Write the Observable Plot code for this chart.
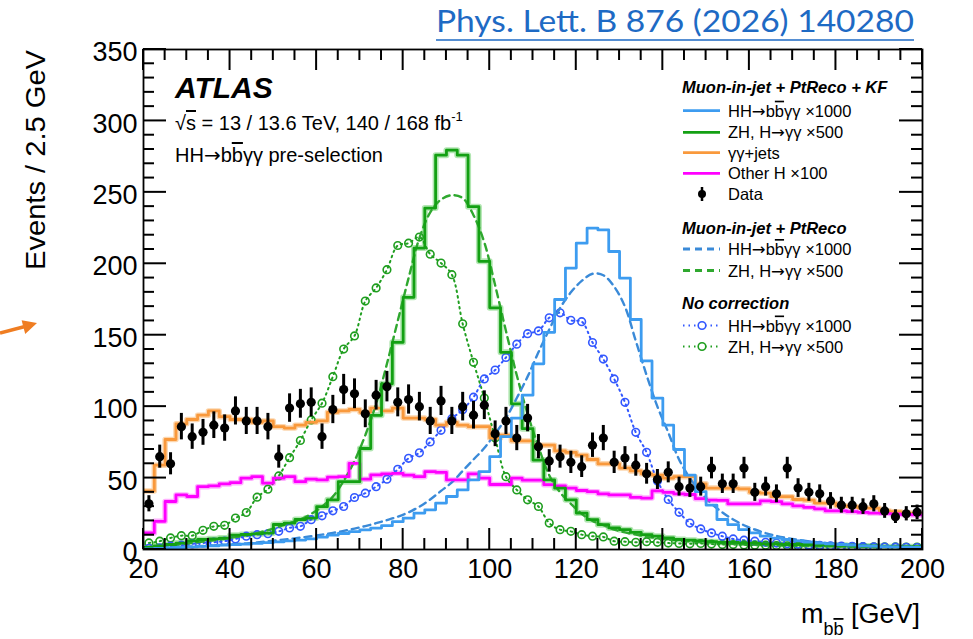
<!DOCTYPE html>
<html><head><meta charset="utf-8">
<script src="https://cdn.jsdelivr.net/npm/d3@7"></script>
<script src="https://cdn.jsdelivr.net/npm/@observablehq/plot@0.6"></script>
<style>
html,body{margin:0;padding:0;background:#fff;}
#wrap{position:relative;width:973px;height:639px;overflow:hidden;font-family:"Liberation Sans",Arial,sans-serif;color:#000;}
#wrap > svg{position:absolute;left:0;top:0;}
</style></head><body><div id="wrap"></div>
<script>
// ---- data (m_bb, 2.5 GeV bins from 20 to 200 GeV) ----
const binEdges = [20,22.5,25,27.5,30,32.5,35,37.5,40,42.5,45,47.5,50,52.5,55,57.5,60,62.5,65,67.5,70,72.5,75,77.5,80,82.5,85,87.5,90,92.5,95,97.5,100,102.5,105,107.5,110,112.5,115,117.5,120,122.5,125,127.5,130,132.5,135,137.5,140,142.5,145,147.5,150,152.5,155,157.5,160,162.5,165,167.5,170,172.5,175,177.5,180,182.5,185,187.5,190,192.5,195,197.5,200];
const xTicksMajor = [20,40,60,80,100,120,140,160,180,200];
const yTicksMajor = [0,50,100,150,200,250,300,350];

const dataCounts = [32,65,60,86,79,82,87,85,97,90,90,86,65,99,102,103,79,98,112,109,95,108,114,103,105,100,90,104,90,100,94,101,81,90,78,92,72,62,65,61,58,73,78,61,64,59,53,49,54,44,43,44,57,46,46,57,40,44,39,57,43,40,39,34,31,31,30,32,27,23,25,26];
const gamgamJets = [41,59,77,88,91,94,97,93,91,91,89,90,86,85,87,89,90,96,97,98,96,99,97,99,92,92,91,87,89,87,86,86,78,80,76,76,73,73,69,68,66,63,60,60,57,55,53,52,50,51,51,46,43,43,43,42.5,40,39.5,37,37,35,34.5,32.5,32.5,30.5,30,29,29,27,26.5,25.5,25];
const otherH = [11.6,19.7,33.6,38.2,37.1,44,44.5,45.9,46.8,49.9,51,46.4,49.9,51,47.5,49.2,48.7,50.6,51,60.3,49.2,52.2,52.9,53.3,52,51,54.5,54,48.7,48.7,53,50,45.5,45.5,49.9,48.5,48.5,45.4,44.5,43,41.3,40.5,39,38.2,38.2,36.5,36,41,40,39,38.5,35.6,34.5,34.4,32,32,32,34,33.5,32,30.5,29.5,28.5,27,27,26.5,26,25.5,25.3,25,24.5,24.2];
const zhKF = [1.5,2.5,3.5,4.5,6,7,7.5,8,10,10.5,11,11.5,17.5,18.5,21,22,30,34.8,47.5,47.5,70.7,93.9,116,145,176.5,211,239,276,279.5,276,240,201.7,169.2,138,102,84.6,62.6,48.7,42.9,34.8,25.5,20.9,17.4,15.1,13.9,12,10.4,9.3,8.1,7,6.5,6,5.5,5,5,4.5,4.5,4,4,3.5,3.5,3.5,3,3,3,2.5,2.5,2.5,2,2,2,2];
const hhKF = [0.5,0.8,1.1,1.4,1.8,2.2,2.6,3,3.4,3.8,4.3,4.8,5.4,6,6.6,7.4,8.6,10,11.2,12.5,13.8,15,16.7,19.5,22,25.5,27.8,32.5,37.1,41.7,48.7,54.5,65,79,92,108,130,152,175,197,214.4,225,223.7,208.6,190,161,132,106,87,70,52,40.5,31,21,17.4,13.9,11.6,9.3,8,7,6,5.2,4.5,4,3.5,3,2.6,2.3,2,1.8,1.6,1.5];
const hhPtReco = [1,1.2,1.5,1.8,2.1,2.5,2.9,3.3,3.8,4.3,5,5.8,6.6,7.4,8.3,9.3,10.4,11.6,13,14.6,16.4,18.4,20.6,23,26,30,35,41,47,55,63,71,81,92,106,121,138,154,169,180,188,193,192,184,170,146,122,100,82,63,50,40,32,26,21,17,14,11.5,9.5,8,6.8,5.8,5,4.3,3.7,3.2,2.8,2.5,2.2,2,1.8,1.6];
const zhPtReco = [1.7,2.3,3,3.8,4.6,5.5,6.5,7.5,8.7,10,11.5,13.5,16,18.5,21,25,30,37,48,62,80,102,130,160,190,218,236,245,248,246,234,215,185,153,122,95,72,52,40,32,25,20,17,14,12,10.5,9,8,7,6.3,5.7,5.2,4.8,4.4,4,3.7,3.4,3.2,3,2.8,2.6,2.4,2.3,2.2,2.1,2,1.9,1.8,1.7,1.6,1.5,1.5];
const zhNoCorr = [4.6,5.8,8.1,9.7,9.7,13.4,16.2,16.9,22,25.9,36.6,42.2,51.5,64.3,76.3,90.7,102.4,121,140.3,149.5,173.9,183.1,195.9,212.8,214.4,218.7,206.7,200.5,192.4,158,131,106,78,51,41.7,34.8,30.1,18.5,13.9,12.7,10.4,9.3,8.8,5.8,5.5,5,5.5,5,4.5,4.2,4,4.2,3.8,3.5,3.5,3.2,3,3,2.8,2.6,2.5,2.5,2.3,2.2,2,2,2,1.9,1.8,1.8,1.7,1.7];
const hhNoCorr = [0.8,1.2,2.3,3,3.9,4.6,5.1,5.8,7.4,9.3,10.4,11.1,12.7,15.1,16.2,20.9,23.6,27.1,30.1,36.4,39.4,44,49.2,56.1,63.8,67.7,75.3,83.4,91.6,97.8,106.6,119.4,125.6,134.4,143.7,151.1,153,162.2,165.7,160.4,159.5,144.9,133.3,119.4,103,82,68,48,35,26,18.5,14.4,11.6,9.3,7.4,6.5,5.8,5,4.5,4,3.6,3.2,2.9,2.6,2.4,2.2,2,1.8,1.7,1.6,1.5,1.4];

// colours
const C = {hh:"#3d9cf0", zh:"#13a013", orange:"#f9993c", magenta:"#ff00ff", hhDash:"#3a8ad8", zhDash:"#2fa82f", hhCirc:"#3358ff", zhCirc:"#1f9e1f"};

// table builders
const stepRows = v => binEdges.map((x,i) => ({x, y: v[Math.min(i, v.length-1)]}));
const centerRows = v => v.map((y,i) => ({x: (binEdges[i]+binEdges[i+1])/2, y}));
const xMinor = binEdges.filter((e,i) => i%2===0 && !xTicksMajor.includes(e));
const yMinor = d3.range(0, 351, 10).filter(v => !yTicksMajor.includes(v));

const W = 973, H = 639, mL = 143, mR = 51, mT = 49, mB = 90;
const stepLine = (v, stroke, w) => Plot.line(stepRows(v), {x:"x", y:"y", curve:"step-after", stroke, strokeWidth:w, clip:true});
const smoothLine = (v, stroke, w, dash) => Plot.line(centerRows(v), {x:"x", y:"y", curve:"catmull-rom", stroke, strokeWidth:w, strokeDasharray:dash, clip:true});
const dataRows = centerRows(dataCounts);

const plot = Plot.plot({
  width: W, height: H,
  marginLeft: mL, marginRight: mR, marginTop: mT, marginBottom: mB,
  x: {domain: [20, 200]},
  y: {domain: [0, 350]},
  style: {fontFamily: "'Liberation Sans', Arial, sans-serif", background: "transparent", color: "#000", overflow: "visible"},
  marks: [
    // uncertainty halos
    stepLine(gamgamJets, "#fcd6ae", 5.5),
    stepLine(otherH, "#ffb0ff", 5.5),
    stepLine(zhKF, "#b2e6b2", 6),
    // no correction (dotted + circles)
    smoothLine(zhNoCorr, C.zhCirc, 2, "1.5,4"),
    smoothLine(hhNoCorr, C.hhCirc, 2, "1.5,4"),
    Plot.dot(centerRows(zhNoCorr), {x:"x", y:"y", r:3.8, stroke:C.zhCirc, strokeWidth:1.6, fill:"none", clip:true}),
    Plot.dot(centerRows(hhNoCorr), {x:"x", y:"y", r:3.8, stroke:C.hhCirc, strokeWidth:1.6, fill:"none", clip:true}),
    // PtReco dashed
    smoothLine(zhPtReco, C.zhDash, 2.4, "7,5"),
    smoothLine(hhPtReco, C.hhDash, 2.4, "7,5"),
    // KF solid histograms
    stepLine(gamgamJets, C.orange, 2.8),
    stepLine(otherH, C.magenta, 2.8),
    stepLine(zhKF, C.zh, 2.8),
    stepLine(hhKF, C.hh, 2.8),
    // data
    Plot.ruleX(dataRows, {x:"x", y1: d => d.y - Math.sqrt(d.y), y2: d => d.y + Math.sqrt(d.y), stroke:"#000", strokeWidth:3}),
    Plot.dot(dataRows, {x:"x", y:"y", r:4.6, fill:"#000"}),
    Plot.frame({stroke:"#000", strokeWidth:1.8}),
    Plot.axisX(xTicksMajor, {anchor:"bottom", tickSize:0, tickPadding:9, fontSize:27, label:null, tickFormat: d => String(d)}),
    Plot.axisY(yTicksMajor, {anchor:"left", tickSize:0, tickPadding:6, fontSize:27, dy:3, label:null, tickFormat: d => String(d)})
  ]
});
document.getElementById("wrap").appendChild(plot);

// ---- overlay: ticks (via Plot's scales), titles, annotations, legend ----
const ov = d3.select("#wrap").append("svg").attr("width", W).attr("height", H)
  .style("font-family", "'Liberation Sans', Arial, sans-serif");
const sx = plot.scale("x"), sy = plot.scale("y");
const fx = v => sx.apply(v), fy = v => sy.apply(v);
const pLeft = fx(20), pRight = fx(200), pBottom = fy(0), pTop = fy(350);
function tickLine(x1, y1, x2, y2) {
  ov.append("line").attr("x1", x1).attr("y1", y1).attr("x2", x2).attr("y2", y2)
    .attr("stroke", "#000").attr("stroke-width", 2);
}
xTicksMajor.forEach(v => { tickLine(fx(v), pBottom, fx(v), pBottom - 21); tickLine(fx(v), pTop, fx(v), pTop + 21); });
xMinor.forEach(v => { tickLine(fx(v), pBottom, fx(v), pBottom - 11); tickLine(fx(v), pTop, fx(v), pTop + 11); });
yTicksMajor.forEach(v => { tickLine(pLeft, fy(v), pLeft + 23, fy(v)); tickLine(pRight, fy(v), pRight - 23, fy(v)); });
yMinor.forEach(v => { tickLine(pLeft, fy(v), pLeft + 11, fy(v)); tickLine(pRight, fy(v), pRight - 11, fy(v)); });

const ARROW_FONT = "'DejaVu Sans', sans-serif";

// journal reference
ov.append("text").attr("x", 436).attr("y", 32).attr("fill", "#1e6ac4")
  .attr("font-family", "Lato, 'Open Sans', sans-serif").attr("font-size", 31)
  .attr("textLength", 478).attr("lengthAdjust", "spacingAndGlyphs")
  .text("Phys. Lett. B 876 (2026) 140280");
ov.append("line").attr("x1", 436).attr("x2", 914).attr("y1", 40).attr("y2", 40).attr("stroke", "#1e6ac4").attr("stroke-width", 1.6);

// orange arrow
ov.append("line").attr("x1", 0).attr("y1", 333).attr("x2", 24).attr("y2", 326.7).attr("stroke", "#ef7d22").attr("stroke-width", 3.5);
ov.append("path").attr("d", "M37,323 L25.2,334 L21.6,320.3 Z").attr("fill", "#ef7d22");

// y title
ov.append("text").attr("transform", "translate(45,50) rotate(-90)").attr("text-anchor", "end")
  .attr("font-size", 28).attr("textLength", 220).attr("lengthAdjust", "spacingAndGlyphs").text("Events / 2.5 GeV");

// x title
const xTitle = ov.append("text").attr("x", 920).attr("y", 623).attr("text-anchor", "end").attr("font-size", 27);
xTitle.append("tspan").text("m");
xTitle.append("tspan").attr("font-size", 18).attr("dy", 12).text("b");
xTitle.append("tspan").attr("font-size", 18).style("text-decoration", "overline").text("b");
xTitle.append("tspan").attr("dy", -12).text(" [GeV]");

// helper for rich text with overlined b and long arrows
function rich(sel, parts) {
  parts.forEach(p => {
    const ts = sel.append("tspan").text(p.t);
    if (p.o) ts.style("text-decoration", "overline");
    if (p.a) ts.attr("font-family", ARROW_FONT);
  });
}

// ATLAS label
ov.append("text").attr("x", 175).attr("y", 98).attr("font-size", 30).attr("font-weight", "bold").attr("font-style", "italic").text("ATLAS");
const t2 = ov.append("text").attr("x", 175).attr("y", 130).attr("font-size", 20);
t2.append("tspan").text("√");
t2.append("tspan").style("text-decoration", "overline").text("s");
t2.append("tspan").text(" = 13 / 13.6 TeV, 140 / 168 fb");
t2.append("tspan").attr("font-size", 13).attr("dy", -9).text("-1");
const t3 = ov.append("text").attr("x", 175).attr("y", 162).attr("font-size", 20);
rich(t3, [{t:"HH"},{t:"→",a:true},{t:"b"},{t:"b",o:true},{t:"γγ pre-selection"}]);

// legend
const LX0 = 683, LX1 = 720, TX = 728, FS = 16.5;
function header(y, s) {
  ov.append("text").attr("x", 682).attr("y", y).attr("font-size", FS).attr("font-weight", "bold").attr("font-style", "italic").text(s);
}
function label(y, parts) {
  rich(ov.append("text").attr("x", TX).attr("y", y).attr("font-size", FS), parts);
}
const hhLab = [{t:"HH"},{t:"→",a:true},{t:"b"},{t:"b",o:true},{t:"γγ ×1000"}];
const zhLab = [{t:"ZH, H"},{t:"→",a:true},{t:"γγ ×500"}];
function sample(y, color, dash, circ) {
  const yy = y - 6;
  ov.append("line").attr("x1", LX0).attr("x2", LX1).attr("y1", yy).attr("y2", yy)
    .attr("stroke", color).attr("stroke-width", dash === "1.5,4" ? 2 : 2.8).attr("stroke-dasharray", dash || null);
  if (circ) ov.append("circle").attr("cx", 702).attr("cy", yy).attr("r", 3.8).attr("fill", "#fff").attr("stroke", color).attr("stroke-width", 1.6);
}
header(93, "Muon-in-jet + PtReco + KF");
sample(116.7, C.hh); label(116.7, hhLab);
sample(138.3, C.zh); label(138.3, zhLab);
sample(158.7, C.orange); label(158.7, [{t:"γγ+jets"}]);
sample(179.3, C.magenta); label(179.3, [{t:"Other H ×100"}]);
ov.append("line").attr("x1", 702).attr("x2", 702).attr("y1", 187).attr("y2", 201).attr("stroke", "#000").attr("stroke-width", 2.5);
ov.append("circle").attr("cx", 702).attr("cy", 194).attr("r", 4).attr("fill", "#000");
label(200, [{t:"Data"}]);
header(233.5, "Muon-in-jet + PtReco");
sample(255, C.hhDash, "7,5"); label(255, hhLab);
sample(276.5, C.zhDash, "7,5"); label(276.5, zhLab);
header(309, "No correction");
sample(331.5, C.hhCirc, "1.5,4", true); label(331.5, hhLab);
sample(352.5, C.zhCirc, "1.5,4", true); label(352.5, zhLab);
</script>
</body></html>
